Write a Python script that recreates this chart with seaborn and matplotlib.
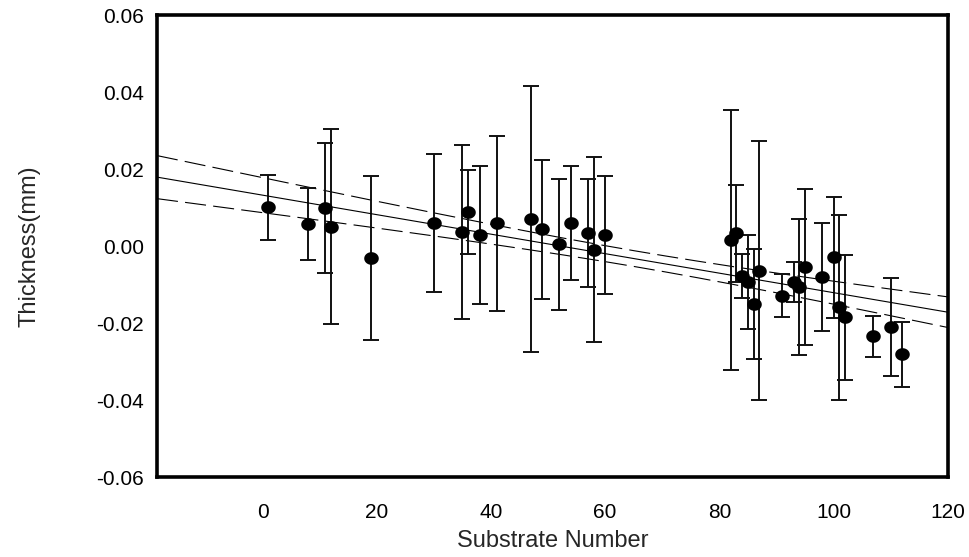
import numpy as np
import pandas as pd
import matplotlib
matplotlib.use("Agg")
import matplotlib.pyplot as plt
import seaborn as sns

# substrate number, thickness (mm) and error bar half-length
substrate = [1, 8, 11, 12, 19, 30, 35, 36, 38, 41, 47, 49, 52, 54, 57, 58, 60,
             82, 83, 84, 85, 86, 87, 91, 93, 94, 95, 98, 100, 101, 102, 107, 110, 112]
thickness = [0.0101, 0.0058, 0.0099, 0.0051, -0.0031, 0.0060, 0.0036, 0.0088, 0.0029,
             0.0060, 0.0071, 0.0044, 0.0005, 0.0060, 0.0034, -0.0009, 0.0029,
             0.0016, 0.0033, -0.0078, -0.0093, -0.0149, -0.0064, -0.0128, -0.0093,
             -0.0106, -0.0054, -0.0081, -0.0029, -0.0158, -0.0185, -0.0234, -0.0210, -0.0281]
error = [0.0084, 0.0093, 0.0168, 0.0254, 0.0212, 0.0180, 0.0226, 0.0109, 0.0179,
         0.0227, 0.0345, 0.0181, 0.0170, 0.0147, 0.0141, 0.0240, 0.0152,
         0.0338, 0.0125, 0.0057, 0.0122, 0.0143, 0.0336, 0.0055, 0.0052,
         0.0177, 0.0202, 0.0140, 0.0157, 0.0240, 0.0163, 0.0054, 0.0128, 0.0085]
yticks = [-0.06, -0.04, -0.02, 0.00, 0.02, 0.04, 0.06]
xticks = [0, 20, 40, 60, 80, 100, 120]

df = pd.DataFrame({"Substrate Number": substrate, "Thickness(mm)": thickness, "err": error})

sns.set_theme(style="white")
plt.rcParams["font.family"] = ["Liberation Sans", "DejaVu Sans"]

fig = plt.figure(figsize=(9.69, 5.57), dpi=100)
ax = fig.add_axes([0.162, 0.143, 0.816, 0.830])
ax.set_xlim(-18.5, 120)
ax.set_ylim(-0.06, 0.06)

# slightly wide dots, like the original
t = np.linspace(0, 2 * np.pi, 40)
dot = np.column_stack([1.15 * np.cos(t), np.sin(t)])

ax.errorbar(df["Substrate Number"], df["Thickness(mm)"], yerr=df["err"], fmt="none",
            ecolor="#111111", elinewidth=1.4, capsize=6, capthick=1.4, zorder=2)
sns.scatterplot(data=df, x="Substrate Number", y="Thickness(mm)", ax=ax, color="black",
                marker=dot, s=110, edgecolor="black", linewidth=0, zorder=3)

# linear fit and 95% confidence band
sns.regplot(data=df, x="Substrate Number", y="Thickness(mm)", ax=ax, scatter=False,
            ci=None, truncate=False, color="black", line_kws={"lw": 0.8})
x = np.asarray(substrate, float)
y = np.asarray(thickness, float)
b, a = np.polyfit(x, y, 1)
n = len(x)
s = np.sqrt(np.sum((y - (a + b * x)) ** 2) / (n - 2))
xs = np.linspace(-18.5, 120, 200)
hw = 2.037 * s * np.sqrt(1 / n + (xs - x.mean()) ** 2 / np.sum((x - x.mean()) ** 2))
for sign in (1, -1):
    ax.plot(xs, a + b * xs + sign * hw, color="black", lw=0.8, dashes=(19, 6.5), zorder=1)

ax.set_xticks(xticks)
ax.set_yticks(yticks)
ax.set_yticklabels([f"{v:.2f}" for v in yticks])
for sp in ax.spines.values():
    sp.set_linewidth(2.6)
    sp.set_color("black")
ax.tick_params(axis="both", which="both", direction="out", length=5.5, width=1,
               color="black", labelsize=15, labelcolor="black")
ax.tick_params(axis="x", pad=13)
ax.tick_params(axis="y", pad=4)
ax.set_xlabel("Substrate Number", fontsize=17, labelpad=6)
ax.set_ylabel("Thickness(mm)", fontsize=17, labelpad=40)

fig.savefig("out.png", dpi=100)
